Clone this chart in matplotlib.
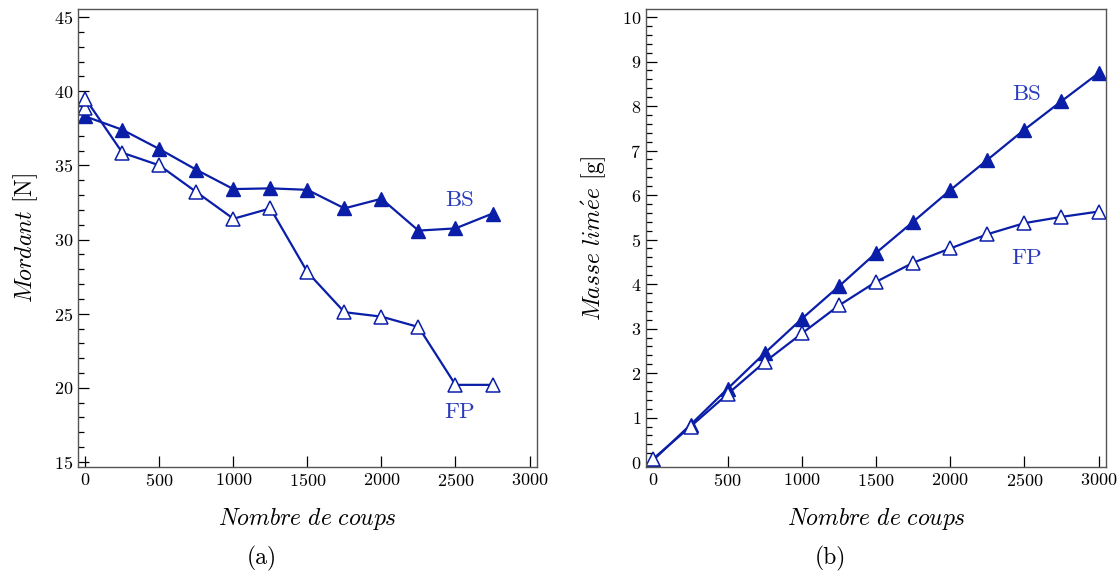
import numpy as np
import matplotlib
matplotlib.use('Agg')
import matplotlib.pyplot as plt
from matplotlib.ticker import MultipleLocator

plt.rcParams['font.family'] = 'serif'
plt.rcParams['font.serif'] = ['cmr10']
plt.rcParams['mathtext.fontset'] = 'cm'
plt.rcParams['axes.formatter.use_mathtext'] = True

# ---------------- data ----------------
coups_a = [0, 250, 500, 750, 1000, 1250, 1500, 1750, 2000, 2250, 2500, 2750]
mordant_bs = [38.3, 37.4, 36.1, 34.7, 33.4, 33.45, 33.35, 32.1, 32.75, 30.6, 30.75, 31.75]
coups_a_fp = [0, 0, 250, 500, 750, 1000, 1250, 1500, 1750, 2000, 2250, 2500, 2750]
mordant_fp = [38.9, 39.5, 35.85, 35.0, 33.2, 31.4, 32.1, 27.8, 25.1, 24.8, 24.1, 20.2, 20.2]

coups_b = [0, 250, 500, 750, 1000, 1250, 1500, 1750, 2000, 2250, 2500, 2750, 3000]
masse_bs = [0.05, 0.84, 1.65, 2.45, 3.22, 3.95, 4.70, 5.40, 6.11, 6.79, 7.47, 8.11, 8.74]
masse_fp = [0.08, 0.80, 1.53, 2.25, 2.89, 3.52, 4.05, 4.48, 4.80, 5.12, 5.37, 5.51, 5.63]

LINE = '#0a1ea8'
TXT = '#2a3cbc'

fig = plt.figure(figsize=(11.2, 5.76), dpi=100)
ax1 = fig.add_axes([0.0696, 0.1892, 0.4098, 0.7951])
ax2 = fig.add_axes([0.5768, 0.1892, 0.4107, 0.7951])


def style(ax):
    for s in ax.spines.values():
        s.set_color('#555555')
        s.set_linewidth(1.0)
    ax.tick_params(which='both', direction='in', top=False, right=False,
                   labelsize=13, color='black', width=0.9)
    ax.tick_params(which='major', length=8)
    ax.tick_params(which='minor', length=4.5)
    ax.tick_params(axis='x', which='minor', bottom=False)
    ax.set_xlim(-50, 3050)
    ax.xaxis.set_major_locator(MultipleLocator(500))


# (a) mordant
ax1.plot(coups_a, mordant_bs, '-^', color=LINE, lw=1.6, ms=10,
         mfc=LINE, mec=LINE)
ax1.plot(coups_a_fp, mordant_fp, '-^', color=LINE, lw=1.6, ms=10,
         mfc='white', mec=LINE, mew=1.1)
style(ax1)
ax1.set_ylim(14.66, 45.54)
ax1.yaxis.set_major_locator(MultipleLocator(5))
ax1.yaxis.set_minor_locator(MultipleLocator(1))
ax1.text(2525, 32.65, 'BS', color=TXT, fontsize=16.5, ha='center', va='center')
ax1.text(2525, 18.35, 'FP', color=TXT, fontsize=16.5, ha='center', va='center')
ax1.set_ylabel(r'$\mathit{Mordant}$ [N]', fontsize=17, labelpad=10)
ax1.set_xlabel(r'$\mathit{Nombre\ de\ coups}$', fontsize=17, labelpad=12)
ax1.text(0.4, -0.2, '(a)', transform=ax1.transAxes, fontsize=17,
         ha='center', va='center')

# (b) masse limee
ax2.plot(coups_b, masse_bs, '-^', color=LINE, lw=1.6, ms=10,
         mfc=LINE, mec=LINE)
ax2.plot(coups_b, masse_fp, '-^', color=LINE, lw=1.6, ms=10,
         mfc='white', mec=LINE, mew=1.1)
style(ax2)
ax2.set_ylim(-0.11, 10.18)
ax2.yaxis.set_major_locator(MultipleLocator(1))
ax2.yaxis.set_minor_locator(MultipleLocator(0.2))
ax2.text(2515, 8.26, 'BS', color=TXT, fontsize=16.5, ha='center', va='center')
ax2.text(2515, 4.58, 'FP', color=TXT, fontsize=16.5, ha='center', va='center')
ax2.set_ylabel(r'$\mathit{Masse\ lim\acute{e}e}$ [g]', fontsize=17, labelpad=10)
ax2.set_xlabel(r'$\mathit{Nombre\ de\ coups}$', fontsize=17, labelpad=12)
ax2.text(0.4, -0.2, '(b)', transform=ax2.transAxes, fontsize=17,
         ha='center', va='center')

fig.savefig('out.png', dpi=100)
